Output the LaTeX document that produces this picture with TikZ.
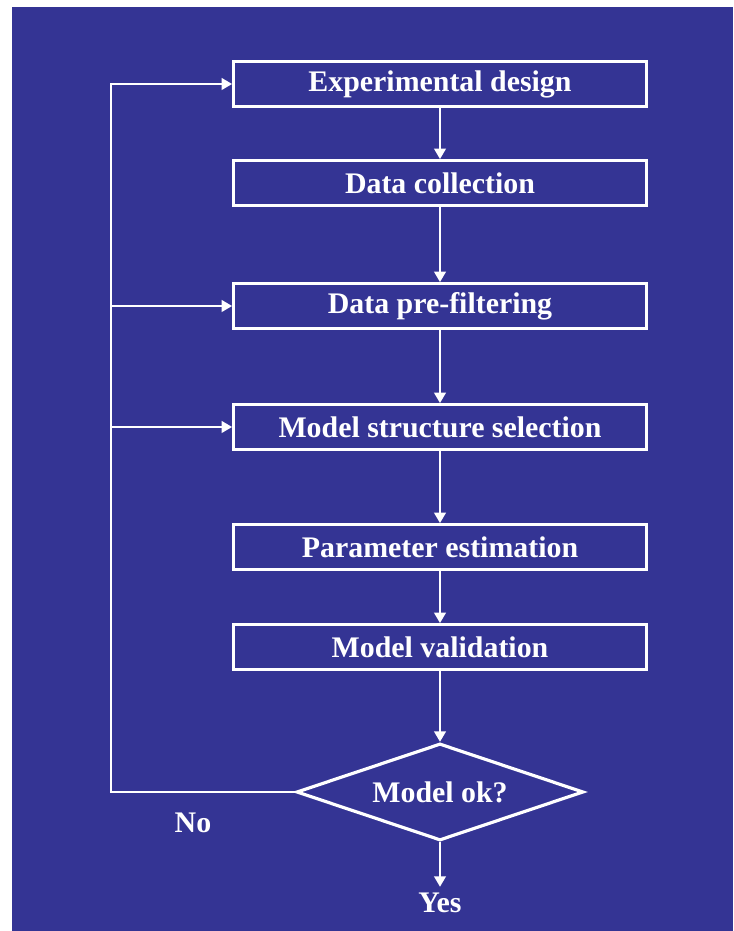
\documentclass[tikz,border=0pt]{standalone}
\usepackage{fontspec}
\setmainfont{Liberation Serif}
\usetikzlibrary{shapes.geometric, arrows.meta}
\definecolor{slideblue}{RGB}{52,52,148}

\begin{document}
\begin{tikzpicture}[
  stage/.style={draw=white, line width=1.8pt, minimum width=8.25cm, minimum height=0.89cm,
    inner sep=0pt, text=white, font=\fontsize{17}{20}\selectfont\bfseries},
  answer/.style={text=white, font=\fontsize{17}{20}\selectfont\bfseries},
  flow/.style={white, line width=1.6pt, -{Triangle[length=6pt,width=6.5pt]}},
]
\useasboundingbox (0,0) rectangle (14.66,18.62);
% background
\fill[slideblue] (0.24,0) rectangle (14.66,18.48);

% stages of the procedure
\foreach \y/\name/\descr in {16.94/exp/Experimental design, 14.96/coll/Data collection,
  12.50/pre/Data pre-filtering, 10.08/struct/Model structure selection,
  7.68/est/Parameter estimation, 5.68/valid/Model validation}
\node[stage] (\name) at (8.8,\y) {\descr};

% decision
\node[diamond, draw=white, line width=1.8pt, aspect=3, minimum width=5.74cm,
  minimum height=1.94cm, inner sep=0pt, text=white,
  font=\fontsize{17}{20}\selectfont\bfseries] (ok) at (8.8,2.78) {Model ok?};

% downward arrows
\foreach \a/\b in {exp/coll, coll/pre, pre/struct, struct/est, est/valid, valid/ok}
\draw[flow] (\a) -- (\b);

% answers
\node[answer] (yes) at (8.8,0.56) {Yes};
\node[answer] (no) at (3.86,2.16) {No};
\draw[flow] (ok) -- (yes);

% feedback loop
\coordinate (turn) at (2.22,2.78);
\draw[flow] (ok.west) -- (turn) |- (exp);
\foreach \name in {pre,struct}
\draw[flow] (turn |- \name) -- (\name);
\end{tikzpicture}
\end{document}
